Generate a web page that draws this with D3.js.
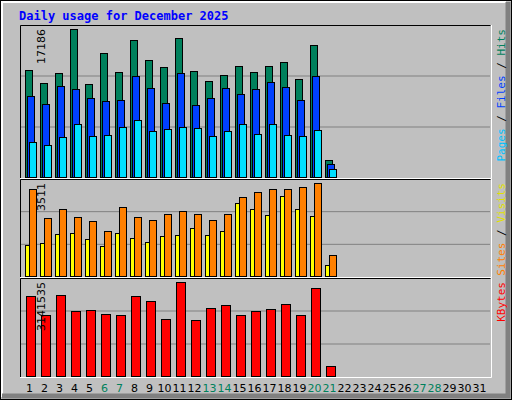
<!DOCTYPE html>
<html><head><meta charset="utf-8">
<script src="https://cdn.jsdelivr.net/npm/d3@7"></script>
<style>body{margin:0;background:#fff}svg{display:block}</style>
</head><body><svg id="c" width="512" height="400"></svg>
<script>
const days = d3.range(1, 32);
const weekendDays = [6,7,13,14,20,21,27,28];
const hits = [12390,10880,12040,17186,10760,14360,12160,15870,13550,12740,16110,12270,11110,11810,12850,12160,12850,13320,11340,15290,1940];
const files = [9371,8442,10532,10184,9139,8790,8907,11693,10300,8558,12042,8326,9139,10300,9603,10184,10997,10416,8907,11693,1475];
const pages = [4029,3681,4610,6120,4726,4842,5771,6584,5307,5539,5771,5655,4726,5307,6120,4958,6120,4842,4726,5423,894];
const sites = [3283,2180,2522,2218,2066,1686,2598,2218,2104,2332,2446,2332,2104,2332,2979,3169,3283,3283,3359,3511,811];
const visits = [1153,1229,1572,1610,1382,1115,1610,1420,1268,1496,1534,1800,1534,1686,2750,2522,2294,3017,2522,2256,431];
const kbytes = [2660000,2040862,2694000,2178000,2212800,2075000,2040900,2660000,2522400,1903000,3141535,1868900,2281600,2384800,2040900,2178500,2247200,2419200,2040900,2935200,321000];

const svg = d3.select("#c");
const mono = "'DejaVu Sans Mono', monospace";
// frame
svg.append("rect").attr("x",0).attr("y",0).attr("width",512).attr("height",400).attr("fill","#c0c0c0");
svg.append("rect").attr("x",0.5).attr("y",0.5).attr("width",511).attr("height",399).attr("fill","none").attr("stroke","#000");
svg.append("path").attr("d","M2,397V2H506").attr("fill","none").attr("stroke","#fff").attr("stroke-width",2);
svg.append("path").attr("d","M508,2V396H2").attr("fill","none").attr("stroke","#808080").attr("stroke-width",5);
svg.append("text").attr("x",19).attr("y",20).attr("font-family",mono).attr("font-weight","bold").attr("font-size",12).attr("fill","#0000ff").text("Daily usage for December 2025");

const x = d3.scaleBand().domain(days).range([21, 486]).paddingInner(0).paddingOuter(0);
const step = x.step();

const panels = [
  {top:25, bottom:178, max:17186, label:"17186", series:[{v:hits,c:"#00805c",o:0,w:8},{v:files,c:"#0040ff",o:2,w:8},{v:pages,c:"#00e0ff",o:4,w:8}],
   names:[["Pages","#00c0ff"],[" / ","#000"],["Files","#0040ff"],[" / ","#000"],["Hits","#00805c"]]},
  {top:179, bottom:277, max:3511, label:"3511", series:[{v:visits,c:"#ffff00",o:0,w:5},{v:sites,c:"#ff8000",o:4,w:8}],
   names:[["Sites","#ff8000"],[" / ","#000"],["Visits","#e0e000"]]},
  {top:278, bottom:377, max:3141535, label:"3141535", series:[{v:kbytes,c:"#ff0000",o:1,w:10}],
   names:[["KBytes","#ff0000"]]}
];
panels.forEach(p => {
  const g = svg.append("g");
  const y = d3.scaleLinear().domain([0, p.max]).range([p.bottom - 1, p.top + 4]);
  const h = p.bottom - p.top;
  [1,2].forEach(k => g.append("line").attr("x1",21).attr("x2",490)
    .attr("y1",p.bottom - k*h/3).attr("y2",p.bottom - k*h/3).attr("stroke","#808080"));
  g.append("path").attr("d",`M20.5,${p.bottom}V${p.top+0.5}H490.5`).attr("fill","none").attr("stroke","#000");
  g.append("path").attr("d",`M491.5,${p.top}V${p.bottom+0.5}H20`).attr("fill","none").attr("stroke","#fff");
  p.series.forEach(s => {
    g.selectAll(null).data(s.v).join("rect")
      .attr("x",(d,i)=>x(days[i]) + 4 + s.o + 0.5)
      .attr("y",d=>Math.round(y(d))+0.5)
      .attr("width",s.w-1)
      .attr("height",d=>p.bottom - 1 - Math.round(y(d)))
      .attr("fill",s.c).attr("stroke","#000");
  });
  g.append("text").attr("transform",`translate(45,${p.top+4}) rotate(-90)`).attr("text-anchor","end")
    .attr("font-family","'DejaVu Sans', sans-serif").attr("font-size",11).attr("fill","#000").text(p.label);
  const t = g.append("text").attr("transform",`translate(505,${p.top+4}) rotate(-90)`).attr("text-anchor","end")
    .attr("font-family",mono).attr("font-size",11);
  p.names.forEach(n => t.append("tspan").attr("fill",n[1]).attr("xml:space","preserve").text(n[0]));
});
svg.selectAll(".day").data(days).join("text")
  .attr("x",d=>x(d)+step/2+1).attr("y",392).attr("text-anchor","middle")
  .attr("font-family","'DejaVu Sans', sans-serif").attr("font-size",11)
  .attr("fill",d=>weekendDays.includes(d)?"#00805c":"#000").text(d=>d);
</script></body></html>
